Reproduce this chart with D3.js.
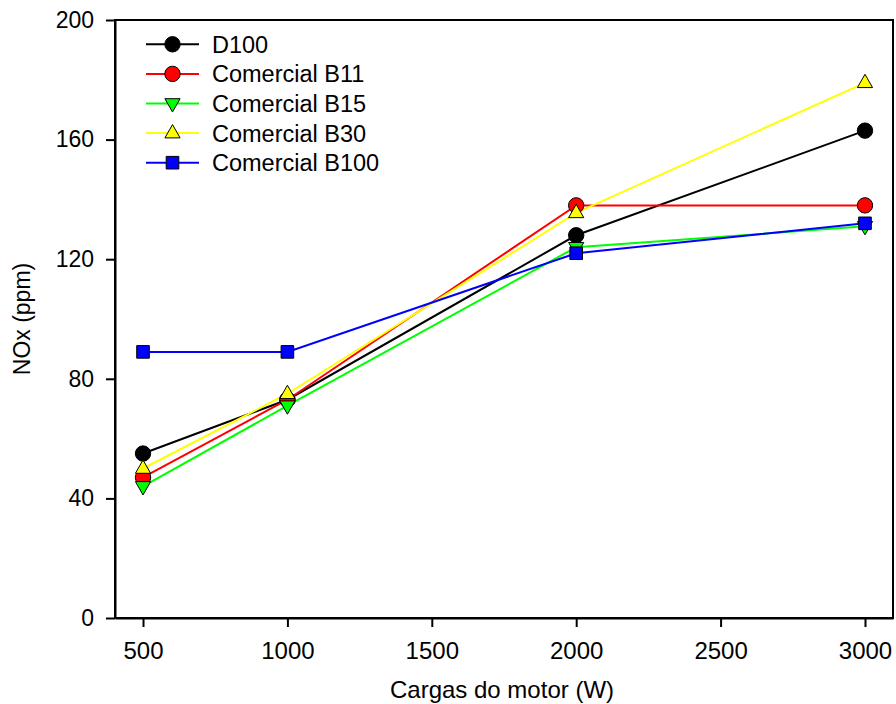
<!DOCTYPE html>
<html><head><meta charset="utf-8">
<script src="https://cdn.jsdelivr.net/npm/d3@7"></script>
<style>body{margin:0;background:#fff}svg{display:block}</style>
</head><body>
<svg id="c" width="896" height="704"></svg>
<script>
const loads = [500, 1000, 2000, 3000];
const seriesNames = ["D100", "Comercial B11", "Comercial B15", "Comercial B30", "Comercial B100"];
const d100 = [55, 73, 128, 163];
const b11 = [47, 73, 138, 138];
const b15 = [44, 71, 124, 131];
const b30 = [50, 75, 135.5, 179];
const b100 = [89, 89, 122, 132];
const xTicks = [500, 1000, 1500, 2000, 2500, 3000];
const yTicks = [0, 40, 80, 120, 160, 200];

const series = [
  {name: seriesNames[0], values: d100, color: "#000000", fill: "#000000", sym: "circle"},
  {name: seriesNames[1], values: b11, color: "#ff0000", fill: "#ff0000", sym: "circle"},
  {name: seriesNames[2], values: b15, color: "#00ff00", fill: "#00ff00", sym: "down"},
  {name: seriesNames[3], values: b30, color: "#ffff00", fill: "#ffff00", sym: "up"},
  {name: seriesNames[4], values: b100, color: "#0000ff", fill: "#0000ff", sym: "square"}
];

const FONT = "'Liberation Sans', Arial, Helvetica, sans-serif";
const L = 115, R = 893, T = 20, B = 618;
const x = d3.scaleLinear().domain([403, 3097]).range([L, R]);
const y = d3.scaleLinear().domain([0, 200]).range([B, T]);
const svg = d3.select("#c");

function symPath(sym) {
  if (sym === "circle") return "M-7.7,0a7.7,7.7 0 1,0 15.4,0a7.7,7.7 0 1,0 -15.4,0Z";
  if (sym === "square") return "M-6.3,-6.3H6.3V6.3H-6.3Z";
  if (sym === "up") return "M0,-8.5L7.6,4.8L-7.6,4.8Z";
  if (sym === "down") return "M0,8.5L7.6,-4.8L-7.6,-4.8Z";
}

const line = d3.line().x((d, i) => x(loads[i])).y(d => y(d));
const g = svg.append("g");
series.forEach(s => {
  g.append("path").attr("d", line(s.values)).attr("fill", "none")
    .attr("stroke", s.color).attr("stroke-width", 2);
});
series.forEach(s => {
  g.selectAll(null).data(s.values).enter().append("path")
    .attr("transform", (d, i) => `translate(${x(loads[i])},${y(d)})`)
    .attr("d", symPath(s.sym)).attr("fill", s.fill)
    .attr("stroke", "#000").attr("stroke-width", 1);
});

// frame
svg.append("rect").attr("x", L).attr("y", T).attr("width", R - L).attr("height", B - T)
  .attr("fill", "none").attr("stroke", "#000").attr("stroke-width", 2);

const xAxis = svg.append("g").attr("transform", `translate(0,${B})`)
  .call(d3.axisBottom(x).tickValues(xTicks).tickFormat(d3.format("d")).tickSize(9).tickSizeOuter(0).tickPadding(15));
xAxis.select(".domain").attr("stroke-width", 2);
xAxis.selectAll(".tick line").attr("stroke-width", 2);
xAxis.selectAll(".tick text").style("font-family", FONT).style("font-size", "24px").attr("fill", "#000");

const yAxis = svg.append("g").attr("transform", `translate(${L},0)`)
  .call(d3.axisLeft(y).tickValues(yTicks).tickFormat(d3.format("d")).tickSize(9).tickSizeOuter(0).tickPadding(12));
yAxis.select(".domain").attr("stroke-width", 2);
yAxis.selectAll(".tick line").attr("stroke-width", 2);
yAxis.selectAll(".tick text").style("font-family", FONT).style("font-size", "23px").attr("fill", "#000");

svg.append("text").attr("x", 502).attr("y", 698).attr("text-anchor", "middle")
  .style("font-family", FONT).style("font-size", "24px").text("Cargas do motor (W)");
svg.append("text").attr("transform", `translate(30,${(T + B) / 2}) rotate(-90)`)
  .attr("text-anchor", "middle").style("font-family", FONT)
  .style("font-size", "23px").text("NOx (ppm)");

// legend
const lg = svg.append("g");
series.forEach((s, i) => {
  const yy = 44.3 + i * 29.6;
  lg.append("line").attr("x1", 146).attr("x2", 199).attr("y1", yy).attr("y2", yy)
    .attr("stroke", s.color).attr("stroke-width", 2);
  lg.append("path").attr("transform", `translate(172.5,${yy})`).attr("d", symPath(s.sym))
    .attr("fill", s.fill).attr("stroke", "#000").attr("stroke-width", 1);
  lg.append("text").attr("x", 212).attr("y", yy + 8.5).style("font-family", FONT)
    .style("font-size", "23.5px").text(s.name);
});
</script>
</body></html>
